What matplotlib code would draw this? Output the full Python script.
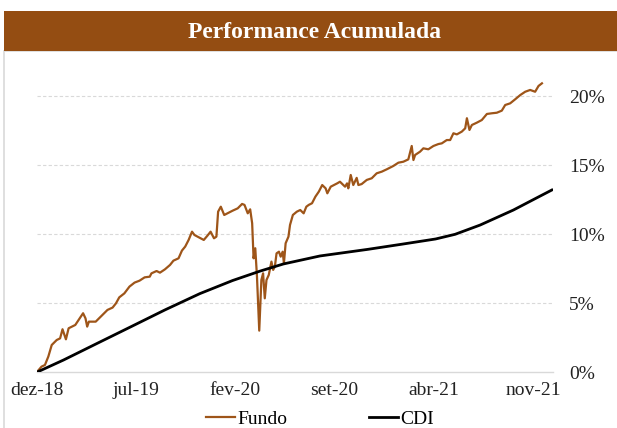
import matplotlib
matplotlib.use("Agg")
import matplotlib.pyplot as plt
from matplotlib.patches import Rectangle

# months since dez-18 and cumulative return (%)
fundo_mes = [0.0, 0.34, 0.58, 0.82, 1.06, 1.41, 1.65, 1.82, 2.06, 2.25, 2.49, 2.72,
             3.08, 3.27, 3.44, 3.56, 3.68, 4.16, 4.51, 4.99, 5.35, 5.59, 5.82, 6.18,
             6.54, 6.90, 7.25, 7.61, 7.97, 8.09, 8.45, 8.69, 9.04, 9.40, 9.64, 10.00,
             10.24, 10.47, 10.71, 10.95, 11.12, 11.43, 11.78, 12.02, 12.26, 12.50, 12.67,
             12.79, 12.98, 13.22, 13.45, 13.81, 14.17, 14.48, 14.65, 14.88, 15.05, 15.19,
             15.29, 15.41, 15.53, 15.69, 15.84, 15.96, 16.08, 16.20, 16.36, 16.55, 16.67,
             16.79, 16.91, 17.08, 17.20, 17.34, 17.43, 17.55, 17.75, 17.86, 18.06, 18.34,
             18.58, 18.82, 19.01, 19.18, 19.41, 19.65, 19.89, 20.13, 20.37, 20.49, 20.73,
             21.20, 21.38, 21.74, 21.88, 21.97, 22.14, 22.32, 22.56, 22.68, 22.91, 23.27,
             23.62, 23.97, 24.33, 24.68, 25.14, 25.50, 25.85, 26.20, 26.44, 26.56, 26.68,
             27.03, 27.26, 27.61, 27.97, 28.32, 28.56, 28.91, 29.15, 29.38, 29.62, 29.97,
             30.21, 30.33, 30.51, 30.68, 31.03, 31.38, 31.74, 32.09, 32.44, 32.79, 33.03,
             33.38, 33.73, 34.09, 34.44, 34.79, 35.14, 35.38, 35.62]
fundo_ret = [0.00, 0.41, 0.53, 1.14, 1.98, 2.34, 2.46, 3.12, 2.39, 3.19, 3.31, 3.43,
             3.99, 4.28, 3.91, 3.31, 3.67, 3.67, 4.03, 4.52, 4.69, 5.00, 5.43, 5.72,
             6.21, 6.50, 6.64, 6.88, 6.93, 7.17, 7.34, 7.22, 7.46, 7.78, 8.09, 8.26,
             8.82, 9.11, 9.59, 10.19, 9.95, 9.78, 9.59, 9.88, 10.19, 9.71, 9.83,
             11.64, 12.00, 11.40, 11.52, 11.71, 11.88, 12.20, 12.13, 11.52, 11.81, 10.80,
             8.26, 8.99, 6.93, 3.02, 6.69, 7.17, 5.36, 6.69, 7.05, 8.02, 7.42,
             7.66, 8.62, 8.74, 8.38, 8.74, 7.90, 9.35, 9.83, 10.68, 11.40, 11.64,
             11.76, 11.52, 12.00, 12.13, 12.25, 12.73, 13.09, 13.57, 13.33, 12.97, 13.45,
             13.70, 13.81, 13.45, 13.69, 13.33, 14.30, 13.57, 14.09, 13.57, 13.64, 13.94,
             14.06, 14.42, 14.54, 14.71, 14.95, 15.19, 15.26, 15.43, 16.40, 15.38, 15.75,
             15.99, 16.23, 16.16, 16.40, 16.54, 16.59, 16.83, 16.83, 17.32, 17.24, 17.44,
             17.68, 18.41, 17.56, 17.92, 18.09, 18.28, 18.72, 18.77, 18.81, 18.96, 19.37,
             19.49, 19.78, 20.09, 20.33, 20.46, 20.33, 20.75, 20.94]

cdi_mes = [0.0, 1.89, 4.27, 6.66, 9.04, 11.5, 13.81, 15.74, 17.39, 19.97, 23.35,
           25.73, 28.12, 29.5, 31.26, 33.61, 35.27, 36.32]
cdi_ret = [0.00, 0.89, 2.10, 3.31, 4.52, 5.70, 6.65, 7.33, 7.85, 8.43, 8.91,
           9.28, 9.66, 10.00, 10.67, 11.76, 12.65, 13.21]

x_ticks = [0, 7, 14, 21, 28, 35]
x_labels = ["dez-18", "jul-19", "fev-20", "set-20", "abr-21", "nov-21"]
y_ticks = [0, 5, 10, 15, 20]

brown = "#944D12"
line_brown = "#9E5519"
grid = "#D9D9D9"
serif = ["Liberation Serif", "DejaVu Serif"]
plt.rcParams["font.family"] = serif

W, H = 617, 428
fig = plt.figure(figsize=(W / 100, H / 100), dpi=100)

# frame and title band
fig.patches.append(Rectangle((4 / W, -0.05), 1, (428 - 51) / H + 0.05,
                             transform=fig.transFigure, fill=False,
                             edgecolor=grid, linewidth=1.2))
fig.patches.append(Rectangle((4 / W, (H - 51) / H), 1, 40 / H,
                             transform=fig.transFigure, facecolor=brown,
                             edgecolor="none"))
fig.text(315 / W, (H - 32) / H, "Performance Acumulada", color="white",
         fontsize=17, fontweight="bold", ha="center", va="center")

ax = fig.add_axes([36.7 / W, 55.7 / H, (553 - 36.7) / W, (372.3 - 68.7) / H])
ax.plot(fundo_mes, fundo_ret, color=line_brown, lw=1.6, label="Fundo", zorder=3)
ax.plot(cdi_mes, cdi_ret, color="black", lw=2.0, label="CDI", zorder=3)

ax.set_xlim(0, 36.4)
ax.set_ylim(0, 22)
ax.set_xticks(x_ticks)
ax.set_xticklabels(x_labels)
ax.set_yticks(y_ticks)
ax.set_yticklabels([f"{v}%" for v in y_ticks])
ax.yaxis.tick_right()
ax.tick_params(axis="both", length=0, labelsize=14, colors="#222222")
ax.tick_params(axis="x", pad=7)
ax.tick_params(axis="y", pad=11.5)
for lbl in ax.get_yticklabels():
    lbl.set_horizontalalignment("left")

for v in y_ticks[1:]:
    ax.axhline(v, color=grid, lw=0.8, ls=(0, (3, 2)), zorder=1)
for s in ["top", "right", "left"]:
    ax.spines[s].set_visible(False)
ax.spines["bottom"].set_color(grid)
ax.spines["bottom"].set_linewidth(1.0)

fig.legend(loc="center", bbox_to_anchor=(320 / W, (H - 419) / H), ncol=2,
           frameon=False, fontsize=14, handlelength=1.5, handletextpad=0.1,
           columnspacing=4.2, borderaxespad=0)

fig.savefig("out.png", dpi=100)
